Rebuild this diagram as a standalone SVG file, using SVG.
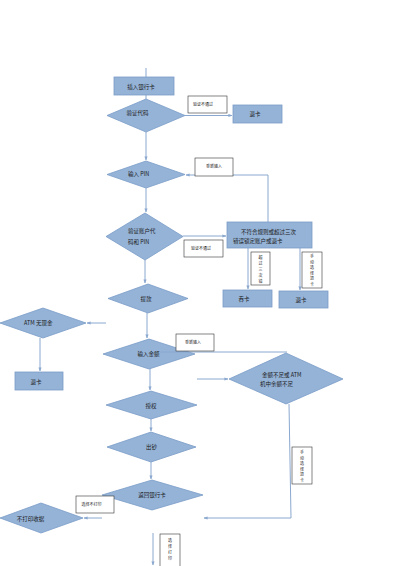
<svg xmlns="http://www.w3.org/2000/svg" width="400" height="566" viewBox="0 0 400 566">
<style>
.shape{fill:#95b3d7;stroke:#7a9cc8;stroke-width:0.8}
.lbl{fill:#ffffff;stroke:#333333;stroke-width:0.6}
.conn{fill:none;stroke:#8aa8cf;stroke-width:1}
text{font-family:"Noto Sans CJK SC","Liberation Sans",sans-serif;fill:#1a1a1a}
.t{font-size:5.5px}
.c{text-anchor:middle}
.s{font-size:4px}
</style>
<defs>
<marker id="arr" viewBox="0 0 10 10" refX="9" refY="5" markerWidth="4" markerHeight="4" orient="auto" markerUnits="userSpaceOnUse">
<path d="M0,1 L10,5 L0,9 Z" fill="#8aa8cf"/>
</marker>
</defs>
<rect width="400" height="566" fill="#ffffff"/>
<g id="connectors">
<path class="conn" d="M146 68 V77"/>
<path class="conn" d="M146 95 V99"/>
<path class="conn" d="M185 115.5 H232" marker-end="url(#arr)"/>
<path class="conn" d="M146 132 V160" marker-end="url(#arr)"/>
<path class="conn" d="M268 222 V175 H186" marker-end="url(#arr)"/>
<path class="conn" d="M146 188 V212" marker-end="url(#arr)"/>
<path class="conn" d="M183 236 H226" marker-end="url(#arr)"/>
<path class="conn" d="M248 248 V289" marker-end="url(#arr)"/>
<path class="conn" d="M300 248 V290" marker-end="url(#arr)"/>
<path class="conn" d="M145 260 V283" marker-end="url(#arr)"/>
<path class="conn" d="M147 313 V338" marker-end="url(#arr)"/>
<path class="conn" d="M106 323 H87" marker-end="url(#arr)"/>
<path class="conn" d="M40 338 V371" marker-end="url(#arr)"/>
<path class="conn" d="M197 379 H228" marker-end="url(#arr)"/>
<path class="conn" d="M150 369 V390" marker-end="url(#arr)"/>
<path class="conn" d="M151 419 V431" marker-end="url(#arr)"/>
<path class="conn" d="M151 462 V479" marker-end="url(#arr)"/>
<path class="conn" d="M102 518 H84" marker-end="url(#arr)"/>
<path class="conn" d="M153 533 V565" marker-end="url(#arr)"/>
</g>
<g id="n-insert"><rect class="shape" x="114" y="77" width="60" height="18"/><text class="t c" x="141" y="88.5">插入银行卡</text></g>
<g id="n-verify-code"><polygon class="shape" points="146,99 185,115.5 146,132 107,115.5"/><text class="t c" x="137.5" y="115">验证代码</text></g>
<g id="l-fail1"><rect class="lbl" x="188" y="96" width="39" height="17"/><text class="s c" x="203" y="105.5">验证不通过</text></g>
<g id="n-eject1"><rect class="shape" x="233" y="105" width="49" height="18"/><text class="t c" x="255" y="116">退卡</text></g>
<g id="n-pin"><polygon class="shape" points="146,161 185,174.5 146,188 107,174.5"/><text class="t" x="128" y="176">输入  PIN</text></g>
<g id="l-reenter1"><rect class="lbl" x="195" y="158" width="38" height="18"/><text class="s c" x="214" y="167.5">重新输入</text></g>
<g id="n-verify-acc"><polygon class="shape" points="145,213 183,236.5 145,260 106,236.5"/><text class="t" x="128" y="232.5">验证账户代</text><text class="t" x="128" y="244">码和  PIN</text></g>
<g id="l-fail2"><rect class="lbl" x="184" y="240" width="39" height="17"/><text class="s c" x="201" y="249.5">验证不通过</text></g>
<g id="n-rule"><rect class="shape" x="227" y="222" width="85" height="26"/><text class="t" x="241" y="233.5">不符合规则或超过三次</text><text class="t" x="233" y="242.5">错误锁定账户或退卡</text></g>
<g id="l-three"><rect class="lbl" x="251" y="252" width="19" height="33"/><text class="s c" x="260.5"><tspan x="260.5" y="259">超</tspan><tspan x="260.5" y="265">过</tspan><tspan x="260.5" y="271">三</tspan><tspan x="260.5" y="277">次</tspan><tspan x="260.5" y="283">错</tspan></text></g>
<g id="l-manual1"><rect class="lbl" x="302" y="252" width="20" height="36"/><text class="s c" x="312"><tspan x="312" y="258">手</tspan><tspan x="312" y="263.5">动</tspan><tspan x="312" y="269">选</tspan><tspan x="312" y="274.5">择</tspan><tspan x="312" y="280">退</tspan><tspan x="312" y="285.5">卡</tspan></text></g>
<g id="n-swallow"><rect class="shape" x="223" y="290" width="49" height="17"/><text class="t c" x="244" y="301">吞卡</text></g>
<g id="n-eject2"><rect class="shape" x="279" y="291" width="49" height="17"/><text class="t c" x="301" y="301.5">退卡</text></g>
<g id="n-withdraw"><polygon class="shape" points="148,284 188,298.5 148,313 108,298.5"/><text class="t c" x="146" y="301">提款</text></g>
<g id="n-nocash"><polygon class="shape" points="43,308 86,323 43,338 0,323"/><text class="t" x="24" y="325">ATM  无现金</text></g>
<g id="n-eject3"><rect class="shape" x="15" y="372" width="48" height="18"/><text class="t c" x="36" y="384">退卡</text></g>
<g id="n-amount"><polygon class="shape" points="149,339 195,354 149,369 103,354"/><text class="t c" x="148.5" y="356">输入金额</text></g>
<path class="conn" d="M287 352 H160"/>
<g id="l-reenter2"><rect class="lbl" x="176" y="334" width="38" height="17"/><text class="s c" x="193" y="343.5">重新输入</text></g>
<g id="n-insufficient"><polygon class="shape" points="286,353 343,379 286,404 229,379"/><text class="t" x="262" y="377">金额不足或  ATM</text><text class="t" x="260" y="386">机中余额不足</text></g>
<path class="conn" d="M289 404 L291 518 H204" marker-end="url(#arr)"/>
<g id="l-manual2"><rect class="lbl" x="292" y="447" width="20" height="37"/><text class="s c" x="302"><tspan x="302" y="454">手</tspan><tspan x="302" y="459.5">动</tspan><tspan x="302" y="465">选</tspan><tspan x="302" y="470.5">择</tspan><tspan x="302" y="476">退</tspan><tspan x="302" y="481.5">卡</tspan></text></g>
<g id="n-auth"><polygon class="shape" points="151,391 197,405 151,419 106,405"/><text class="t c" x="151" y="408">授权</text></g>
<g id="n-dispense"><polygon class="shape" points="151,432 196,447 151,462 107,447"/><text class="t c" x="151.5" y="449">出钞</text></g>
<g id="n-return"><polygon class="shape" points="152,480 203,495 152,510 102,495"/><text class="t c" x="152" y="497">返回银行卡</text></g>
<g id="n-noprint"><polygon class="shape" points="41,503 83,518 41,533 0,518"/><text class="t c" x="30.5" y="520.5">不打印收据</text></g>
<g id="l-noprint"><rect class="lbl" x="76" y="496" width="38" height="17"/><text class="s c" x="91.5" y="506">选择不打印</text></g>
<g id="l-print"><rect class="lbl" x="160" y="534" width="20" height="40"/><text class="s c" x="170"><tspan x="170" y="542">选</tspan><tspan x="170" y="548">择</tspan><tspan x="170" y="554">打</tspan><tspan x="170" y="560">印</tspan></text></g>
</svg>
